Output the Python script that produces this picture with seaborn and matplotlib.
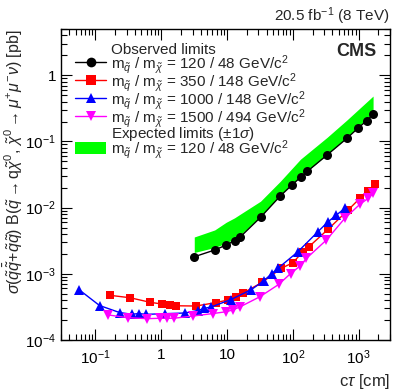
import numpy as np
import pandas as pd
import matplotlib
matplotlib.use("Agg")
import matplotlib.pyplot as plt
from matplotlib.lines import Line2D
from matplotlib.patches import Patch
from matplotlib.ticker import LogLocator, NullFormatter
import seaborn as sns

# ---------------- data ----------------
obs_ctau = [3.18, 6.5, 9.7, 13.0, 16.0, 32.3, 64.5, 98, 131, 166, 331, 661, 980, 1320, 1660]
obs_120_48 = [1.81e-3, 2.29e-3, 2.72e-3, 3.16e-3, 3.63e-3, 7.13e-3, 1.50e-2, 2.22e-2, 2.87e-2,
              3.53e-2, 6.23e-2, 0.111, 0.159, 0.205, 0.257]

exp_ctau = [3.18, 6.5, 9.7, 13.0, 16.0, 32.3, 64.5, 131, 331, 661, 1660]
exp_lo = [2.1e-3, 2.5e-3, 2.9e-3, 3.4e-3, 3.9e-3, 7.3e-3, 1.55e-2, 2.95e-2, 6.3e-2, 0.115, 0.27]
exp_hi = [3.6e-3, 4.6e-3, 6.0e-3, 7.0e-3, 8.0e-3, 1.25e-2, 2.5e-2, 5.4e-2, 0.115, 0.21, 0.485]

red_ctau = [0.167, 0.337, 0.68, 1.02, 1.37, 1.69, 3.38, 6.82, 10.3, 13.9, 17.2, 34.3, 66.8,
            100, 141, 176, 343, 692, 1043, 1396, 1766]
obs_350_148 = [4.73e-4, 4.35e-4, 3.71e-4, 3.50e-4, 3.34e-4, 3.29e-4, 3.26e-4, 3.68e-4, 4.02e-4,
               4.51e-4, 5.08e-4, 7.44e-4, 1.21e-3, 1.47e-3, 2.13e-3, 2.57e-3, 4.70e-3, 9.2e-3,
               1.38e-2, 1.80e-2, 2.27e-2]

blue_ctau = [0.0573, 0.1155, 0.233, 0.357, 0.462, 0.581, 1.15, 2.32, 3.6, 4.52, 5.72, 11.5,
             23.3, 35.9, 47.5, 59.3, 118, 241, 343, 460, 616]
obs_1000_148 = [5.69e-4, 3.32e-4, 2.60e-4, 2.45e-4, 2.51e-4, 2.44e-4, 2.50e-4, 2.56e-4, 2.79e-4,
                3.01e-4, 3.15e-4, 4.09e-4, 5.75e-4, 7.79e-4, 1.0e-3, 1.21e-3, 2.13e-3, 4.33e-3,
                6.12e-3, 7.73e-3, 9.75e-3]

mag_ctau = [0.153, 0.314, 0.618, 0.949, 1.23, 1.55, 3.02, 6.1, 9.62, 12.2, 15.6, 31.7, 61.4,
            92.5, 129, 161, 324, 616, 1043, 1396, 1663]
obs_1500_494 = [2.40e-4, 2.17e-4, 2.10e-4, 2.13e-4, 2.13e-4, 2.13e-4, 2.30e-4, 2.51e-4, 2.67e-4,
                2.84e-4, 3.15e-4, 4.51e-4, 6.94e-4, 1.01e-3, 1.31e-3, 1.71e-3, 3.24e-3, 6.89e-3,
                1.12e-2, 1.38e-2, 1.64e-2]

xtick_vals = [0.1, 1, 10, 100, 1000]
xtick_labels = ['10$^{-1}$', '1', '10', '10$^{2}$', '10$^{3}$']
ytick_vals = [1e-4, 1e-3, 1e-2, 1e-1, 1]
ytick_labels = ['10$^{-4}$', '10$^{-3}$', '10$^{-2}$', '10$^{-1}$', '1']

lab_120 = r'm$_{\tilde{q}}$ / m$_{\tilde{\chi}}$ = 120 / 48 GeV/c$^{2}$'
lab_350 = r'm$_{\tilde{q}}$ / m$_{\tilde{\chi}}$ = 350 / 148 GeV/c$^{2}$'
lab_1000 = r'm$_{\tilde{q}}$ / m$_{\tilde{\chi}}$ = 1000 / 148 GeV/c$^{2}$'
lab_1500 = r'm$_{\tilde{q}}$ / m$_{\tilde{\chi}}$ = 1500 / 494 GeV/c$^{2}$'

# ---------------- plot ----------------
sns.set_theme(style="ticks")
plt.rcParams['font.family'] = ['Liberation Sans', 'DejaVu Sans']
plt.rcParams['mathtext.fontset'] = 'custom'
plt.rcParams['mathtext.rm'] = 'Liberation Sans'
plt.rcParams['mathtext.it'] = 'Liberation Sans:italic'

fig = plt.figure(figsize=(4.07, 3.91), dpi=100)
ax = fig.add_axes([61/407, 51/391, 329/407, 311/391])

ax.fill_between(exp_ctau, exp_lo, exp_hi, color='#00ff00', linewidth=0, zorder=1)

series = [
    (obs_ctau, obs_120_48, 'black', 'o', 6.5),
    (red_ctau, obs_350_148, '#ff0000', 's', 6.0),
    (blue_ctau, obs_1000_148, '#0000ff', '^', 6.5),
    (mag_ctau, obs_1500_494, '#ff00ff', 'v', 6.5),
]
for xs, ys, col, mk, ms in series:
    df = pd.DataFrame({'x': xs, 'y': ys})
    sns.lineplot(data=df, x='x', y='y', ax=ax, color=col, marker=mk, markersize=ms,
                 markeredgewidth=0, linewidth=1.0, sort=False, estimator=None, zorder=3)

ax.set_xscale('log')
ax.set_yscale('log')
ax.set_xlim(0.03, 3000)
ax.set_ylim(1e-4, 5)
ax.set_xticks(xtick_vals, xtick_labels)
ax.set_yticks(ytick_vals, ytick_labels)
ax.xaxis.set_minor_locator(LogLocator(base=10, subs=np.arange(2, 10), numticks=30))
ax.yaxis.set_minor_locator(LogLocator(base=10, subs=np.arange(2, 10), numticks=30))
ax.xaxis.set_minor_formatter(NullFormatter())
ax.yaxis.set_minor_formatter(NullFormatter())
ax.tick_params(which='both', direction='in', top=True, right=True, labelsize=11, colors='black')
ax.tick_params(which='major', length=8, width=0.8)
ax.tick_params(which='minor', length=4, width=0.8)
ax.tick_params(axis='x', which='major', pad=6)
for sp in ax.spines.values():
    sp.set_linewidth(1.0)
    sp.set_color('black')

ax.set_xlabel(r'c$\tau$ [cm]', loc='right', fontsize=12)
ax.set_ylabel(r'$\sigma$(' + r'$\tilde{q}\bar{\tilde{q}}$+$\tilde{q}\tilde{q}$) B($\tilde{q}\rightarrow$q$\tilde{\chi}^{0}$, $\tilde{\chi}^{0}\rightarrow\mu^{+}\mu^{-}\nu$) [pb]',
              loc='top', fontsize=11.5)
ax.yaxis.set_label_coords(-0.108, 1.0)

handles = [
    Line2D([], [], linestyle='none'),
    Line2D([], [], color='black', marker='o', markersize=7, markeredgewidth=0, lw=1),
    Line2D([], [], color='#ff0000', marker='s', markersize=6.5, markeredgewidth=0, lw=1),
    Line2D([], [], color='#0000ff', marker='^', markersize=7, markeredgewidth=0, lw=1),
    Line2D([], [], color='#ff00ff', marker='v', markersize=7, markeredgewidth=0, lw=1),
    Line2D([], [], linestyle='none'),
    Patch(facecolor='#00ff00', edgecolor='none'),
]
labels = ['Observed limits', lab_120, lab_350, lab_1000, lab_1500,
          r'Expected limits ($\pm$1$\sigma$)', lab_120]
ax.legend(handles, labels, loc='upper left', bbox_to_anchor=(0.025, 0.975), frameon=False,
          fontsize=11, handlelength=2.0, handletextpad=0.35, labelspacing=-0.32,
          borderaxespad=0.0, handleheight=0.9)

ax.text(0.96, 0.955, 'CMS', transform=ax.transAxes, ha='right', va='top',
        fontsize=13, fontweight='bold')
fig.text(390/407, 1 - 16/391, r'20.5 fb$^{-1}$ (8 TeV)', ha='right', va='center', fontsize=11)

fig.savefig('out.png', dpi=100)
